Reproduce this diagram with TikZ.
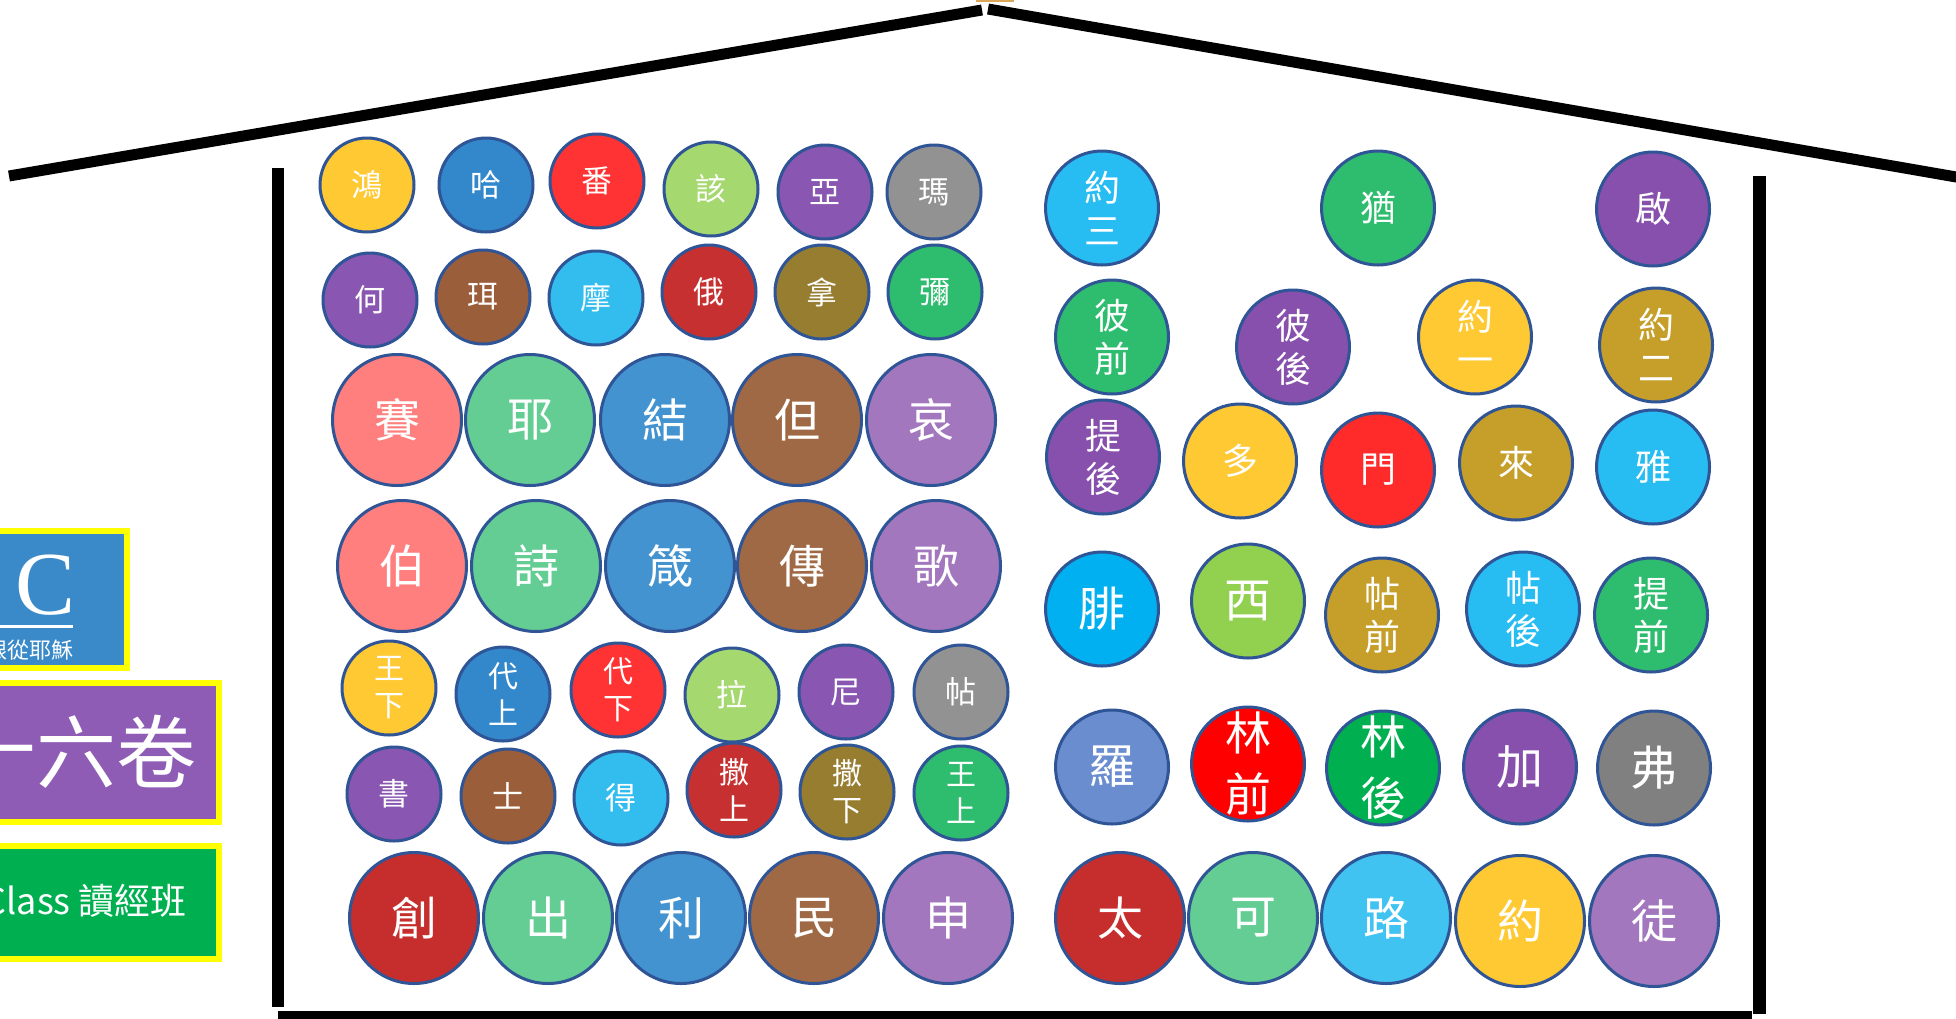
\documentclass[tikz,border=0pt]{standalone}
\usepackage{fontspec}
\setmainfont{Noto Sans CJK TC}
\newfontfamily\serifC{Liberation Serif}
\usetikzlibrary{shapes.geometric}
\definecolor{edge}{HTML}{2F5597}
\definecolor{cYel}{HTML}{FFC933}
\definecolor{cBlue}{HTML}{3388CC}
\definecolor{cRed}{HTML}{FF3333}
\definecolor{cRedB}{HTML}{FF2A2A}
\definecolor{cLime}{HTML}{A5D86E}
\definecolor{cPur}{HTML}{8956B1}
\definecolor{cPurB}{HTML}{8650AC}
\definecolor{cGray}{HTML}{929292}
\definecolor{cGrayB}{HTML}{808080}
\definecolor{cBrown}{HTML}{9B5E3A}
\definecolor{cCyan}{HTML}{33BDEF}
\definecolor{cCyanB}{HTML}{27BCF2}
\definecolor{cDRed}{HTML}{C63031}
\definecolor{cOlive}{HTML}{977D30}
\definecolor{cGreen}{HTML}{2EBD6E}
\definecolor{cSalmon}{HTML}{FF7F7F}
\definecolor{cMint}{HTML}{64CD94}
\definecolor{cSteel}{HTML}{4393D0}
\definecolor{cBrownL}{HTML}{9E6944}
\definecolor{cLav}{HTML}{A277BE}
\definecolor{cCrim}{HTML}{C62D2D}
\definecolor{cSky}{HTML}{41C3F2}
\definecolor{cGold}{HTML}{C69F2A}
\definecolor{cAzure}{HTML}{00B0F0}
\definecolor{cYG}{HTML}{92D050}
\definecolor{cCorn}{HTML}{6A8DD0}
\definecolor{cPRed}{HTML}{FF0000}
\definecolor{cKelly}{HTML}{00B050}
\definecolor{boxBlue}{HTML}{3A8AC9}
\definecolor{boxPur}{HTML}{8E5CB5}
\definecolor{boxGreen}{HTML}{00B050}
\definecolor{boxEdge}{HTML}{FFFF00}
\definecolor{topMark}{HTML}{D9A65A}
\newcommand\bb[7]{\node[#1,fill=#6] (#2) at (#4,#5) {}; \node[#3] (#2t) at (#2.center) {#7};}
\begin{document}
\begin{tikzpicture}[x=1pt,y=-1pt,
  bub/.style={ellipse, draw=edge, line width=3pt, inner sep=0pt},
  bubS/.style={bub, minimum width=94pt, minimum height=94pt},
  bubM/.style={bub, minimum width=113pt, minimum height=114pt},
  bubL/.style={bub, minimum width=129pt, minimum height=131pt},
  txt/.style={inner sep=0pt, text=white, align=center},
  txtS/.style={txt, font=\fontsize{31}{37}\selectfont},
  txtS2/.style={txt, font=\fontsize{30}{37}\selectfont},
  txtM/.style={txt, font=\fontsize{36}{43}\selectfont},
  txtM2/.style={txt, font=\fontsize{36}{43}\selectfont},
  txtMb/.style={txt, font=\fontsize{47}{55}\selectfont},
  txtMb2/.style={txt, font=\fontsize{46}{61}\selectfont},
  txtL/.style={txt, font=\fontsize{46}{52}\selectfont},
  wall/.style={fill=black, draw=none},
  roof/.style={draw=black, line width=11pt, line cap=butt},
  sidebox/.style={line width=6pt, draw=boxEdge}
]
\useasboundingbox (0,0) rectangle (1956,1018);
\fill[white] (0,0) rectangle (1956,1018);

% roof and walls
\coordinate (rl) at (9,176);
\coordinate (ra) at (982,10);
\coordinate (rb) at (988,9);
\coordinate (rr) at (1962,178);
\draw[roof] (rl) -- (ra);
\draw[roof] (rb) -- (rr);
\fill[topMark] (976,0) rectangle (1014,2);
\fill[wall] (272,168) rectangle (284,1007);
\fill[wall] (1753,176) rectangle (1766,1014);
\fill[wall] (278,1011) rectangle (1752,1022);

% side boxes
\filldraw[sidebox, fill=boxBlue] (-10,531) rectangle (127,668);
\node[font=\serifC\fontsize{90}{90}\selectfont, text=white, inner sep=0pt] (bigC) at (46,585) {C};
\draw[white, line width=3pt] (-5,626) -- (73,626);
\node[font=\fontsize{22}{24}\selectfont, text=white, inner sep=0pt, anchor=east] (follow) at (74,650) {跟從耶穌};

\filldraw[sidebox, fill=boxPur] (-10,683) rectangle (219,822);
\node[font=\fontsize{80}{90}\selectfont, text=white, inner sep=0pt, anchor=east] (books) at (197,752) {六十六卷};

\filldraw[sidebox, fill=boxGreen] (-10,846) rectangle (219,959);
\node[font=\fontsize{36}{40}\selectfont, text=white, inner sep=0pt, anchor=east] (cls) at (187,901) {Class 讀經班};

% left block
\bb{bubS}{a1}{txtS}{367}{185}{cYel}{鴻}
\bb{bubS}{a2}{txtS}{486}{185}{cBlue}{哈}
\bb{bubS}{a3}{txtS}{597}{181}{cRed}{番}
\bb{bubS}{a4}{txtS}{711}{189}{cLime}{該}
\bb{bubS}{a5}{txtS}{825}{192}{cPur}{亞}
\bb{bubS}{a6}{txtS}{934}{192}{cGray}{瑪}

\bb{bubS}{b1}{txtS}{370}{300}{cPur}{何}
\bb{bubS}{b2}{txtS}{483}{297}{cBrown}{珥}
\bb{bubS}{b3}{txtS}{596}{298}{cCyan}{摩}
\bb{bubS}{b4}{txtS}{709}{292}{cDRed}{俄}
\bb{bubS}{b5}{txtS}{822}{292}{cOlive}{拿}
\bb{bubS}{b6}{txtS}{935}{292}{cGreen}{彌}

\bb{bubL}{c1}{txtL}{397}{420}{cSalmon}{賽}
\bb{bubL}{c2}{txtL}{530}{420}{cMint}{耶}
\bb{bubL}{c3}{txtL}{665}{420}{cSteel}{結}
\bb{bubL}{c4}{txtL}{797}{420}{cBrownL}{但}
\bb{bubL}{c5}{txtL}{931}{420}{cLav}{哀}

\bb{bubL}{d1}{txtL}{402}{566}{cSalmon}{伯}
\bb{bubL}{d2}{txtL}{536}{566}{cMint}{詩}
\bb{bubL}{d3}{txtL}{670}{566}{cSteel}{箴}
\bb{bubL}{d4}{txtL}{802}{566}{cBrownL}{傳}
\bb{bubL}{d5}{txtL}{936}{566}{cLav}{歌}

\bb{bubS}{e1}{txtS2}{389}{688}{cYel}{王\\下}
\bb{bubS}{e2}{txtS2}{503}{694}{cBlue}{代\\上}
\bb{bubS}{e3}{txtS2}{618}{690}{cRed}{代\\下}
\bb{bubS}{e4}{txtS}{732}{695}{cLime}{拉}
\bb{bubS}{e5}{txtS}{846}{692}{cPur}{尼}
\bb{bubS}{e6}{txtS}{961}{692}{cGray}{帖}

\bb{bubS}{f1}{txtS}{394}{794}{cPur}{書}
\bb{bubS}{f2}{txtS}{508}{796}{cBrown}{士}
\bb{bubS}{f3}{txtS}{621}{798}{cCyan}{得}
\bb{bubS}{f4}{txtS2}{734}{790}{cDRed}{撒\\上}
\bb{bubS}{f5}{txtS2}{847}{792}{cOlive}{撒\\下}
\bb{bubS}{f6}{txtS2}{961}{793}{cGreen}{王\\上}

\bb{bubL}{g1}{txtL}{414}{918}{cCrim}{創}
\bb{bubL}{g2}{txtL}{548}{918}{cMint}{出}
\bb{bubL}{g3}{txtL}{681}{918}{cSteel}{利}
\bb{bubL}{g4}{txtL}{814}{918}{cBrownL}{民}
\bb{bubL}{g5}{txtL}{948}{918}{cLav}{申}

% right block
\bb{bubM}{p1}{txtM2}{1102}{208}{cCyanB}{約\\三}
\bb{bubM}{p2}{txtM}{1378}{208}{cGreen}{猶}
\bb{bubM}{p3}{txtM}{1653}{209}{cPurB}{啟}

\bb{bubM}{q1}{txtM2}{1112}{337}{cGreen}{彼\\前}
\bb{bubM}{q2}{txtM2}{1293}{347}{cPurB}{彼\\後}
\bb{bubM}{q3}{txtM2}{1475}{337}{cYel}{約\\一}
\bb{bubM}{q4}{txtM2}{1656}{345}{cGold}{約\\二}

\bb{bubM}{r1}{txtM2}{1103}{457}{cPurB}{提\\後}
\bb{bubM}{r2}{txtM}{1240}{461}{cYel}{多}
\bb{bubM}{r3}{txtM}{1378}{470}{cRedB}{門}
\bb{bubM}{r4}{txtM}{1516}{463}{cGold}{來}
\bb{bubM}{r5}{txtM}{1653}{467}{cCyanB}{雅}

\bb{bubM}{s1}{txtMb}{1102}{609}{cAzure}{腓}
\bb{bubM}{s2}{txtMb}{1248}{601}{cYG}{西}
\bb{bubM}{s3}{txtM2}{1382}{615}{cGold}{帖\\前}
\bb{bubM}{s4}{txtM2}{1523}{609}{cCyanB}{帖\\後}
\bb{bubM}{s5}{txtM2}{1651}{615}{cGreen}{提\\前}

\bb{bubM}{t1}{txtMb}{1112}{767}{cCorn}{羅}
\bb{bubM}{t2}{txtMb2}{1248}{764}{cPRed}{林\\前}
\bb{bubM}{t3}{txtMb2}{1383}{768}{cKelly}{林\\後}
\bb{bubM}{t4}{txtMb}{1520}{767}{cPurB}{加}
\bb{bubM}{t5}{txtMb}{1654}{768}{cGrayB}{弗}

\bb{bubL}{u1}{txtL}{1120}{918}{cCrim}{太}
\bb{bubL}{u2}{txtL}{1253}{918}{cMint}{可}
\bb{bubL}{u3}{txtL}{1386}{918}{cSky}{路}
\bb{bubL}{u4}{txtL}{1520}{921}{cYel}{約}
\bb{bubL}{u5}{txtL}{1654}{921}{cLav}{徒}
\end{tikzpicture}
\end{document}
